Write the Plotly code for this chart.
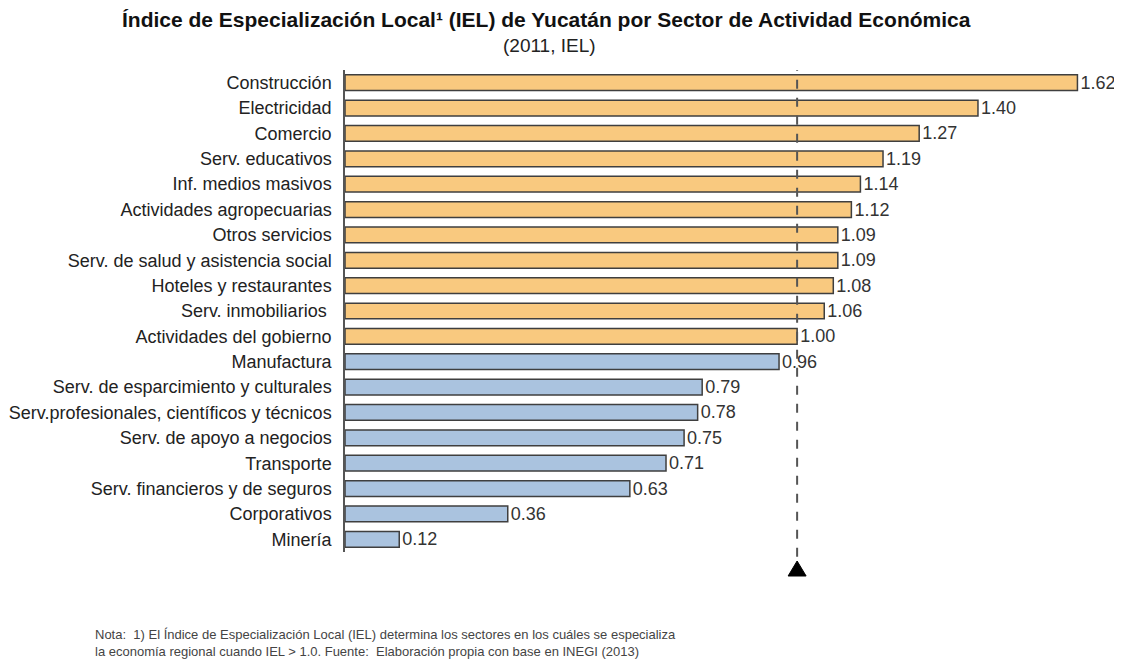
import plotly.graph_objects as go

sectores = [
    "Construcción",
    "Electricidad",
    "Comercio",
    "Serv. educativos",
    "Inf. medios masivos",
    "Actividades agropecuarias",
    "Otros servicios",
    "Serv. de salud y asistencia social",
    "Hoteles y restaurantes",
    "Serv. inmobiliarios ",
    "Actividades del gobierno",
    "Manufactura",
    "Serv. de esparcimiento y culturales",
    "Serv.profesionales, científicos y técnicos",
    "Serv. de apoyo a negocios",
    "Transporte",
    "Serv. financieros y de seguros",
    "Corporativos",
    "Minería",
]
iel = [1.62, 1.40, 1.27, 1.19, 1.14, 1.12, 1.09, 1.09, 1.08, 1.06, 1.00,
       0.96, 0.79, 0.78, 0.75, 0.71, 0.63, 0.36, 0.12]
umbral = 1.0

n = len(sectores)
ypos = list(range(n - 1, -1, -1))
colores = ["#F9C97F" if v >= umbral else "#AAC3DF" for v in iel]

FONT = "Liberation Sans, Arial, sans-serif"

fig = go.Figure()
fig.add_trace(go.Bar(
    x=iel,
    y=ypos,
    orientation="h",
    marker=dict(color=colores, line=dict(color="#3f3f3f", width=1.5)),
    width=0.62,
    text=[f"{v:.2f}" for v in iel],
    textposition="outside",
    constraintext="none",
    textfont=dict(family=FONT, size=18, color="#333333"),
    cliponaxis=False,
    hoverinfo="x+y",
))

# línea de referencia IEL = 1
fig.add_shape(
    type="line", xref="x", yref="paper",
    x0=umbral, x1=umbral, y0=-0.01, y1=1.0,
    line=dict(color="#555555", width=2, dash="dash"),
    layer="above",
)
# triángulo bajo la línea
fig.add_shape(
    type="path", xref="x", yref="paper",
    xsizemode="pixel", ysizemode="pixel",
    xanchor=umbral, yanchor=0,
    path="M -9,-24 L 9,-24 L 0,-9 Z",
    fillcolor="black", line=dict(color="black", width=1),
)

fig.update_layout(
    width=1122,
    height=660,
    margin=dict(l=337, r=39, t=62, b=116, autoexpand=False),
    plot_bgcolor="white",
    paper_bgcolor="white",
    showlegend=False,
    font=dict(family=FONT, size=18, color="#222222"),
    xaxis=dict(range=[0, 1.65], visible=False, showgrid=False, zeroline=False),
    yaxis=dict(
        range=[-0.5, n - 0.5],
        tickvals=ypos,
        ticktext=sectores,
        showline=True,
        linecolor="#555555",
        linewidth=1.5,
        ticks="",
        showgrid=False,
        zeroline=False,
        automargin=False,
        ticklabelstandoff=8,
        tickfont=dict(size=18, color="#222222"),
    ),
    annotations=[
        dict(
            text="<b>Índice de Especialización Local¹ (IEL) de Yucatán por Sector de Actividad Económica</b>",
            xref="paper", yref="paper",
            x=(538 - 337) / (1122 - 337 - 39), xanchor="center",
            y=1 + (62 - 12) / 482, yanchor="middle",
            showarrow=False, font=dict(size=21, color="#111111"),
        ),
        dict(
            text="(2011, IEL)",
            xref="paper", yref="paper",
            x=(541 - 337) / (1122 - 337 - 39), xanchor="center",
            y=1 + (62 - 38) / 482, yanchor="middle",
            showarrow=False, font=dict(size=19, color="#222222"),
        ),
        dict(
            text="Nota:  1) El Índice de Especialización Local (IEL) determina los sectores en los cuáles se especializa"
                 "<br>la economía regional cuando IEL > 1.0. Fuente:  Elaboración propia con base en INEGI (2013)",
            xref="paper", yref="paper",
            x=-(337 - 85) / (1122 - 337 - 39), xanchor="left",
            y=-(617 - 544) / 482, yanchor="top",
            align="left", showarrow=False,
            font=dict(size=13, color="#444444"),
        ),
    ],
)

fig.write_html("out.html")
